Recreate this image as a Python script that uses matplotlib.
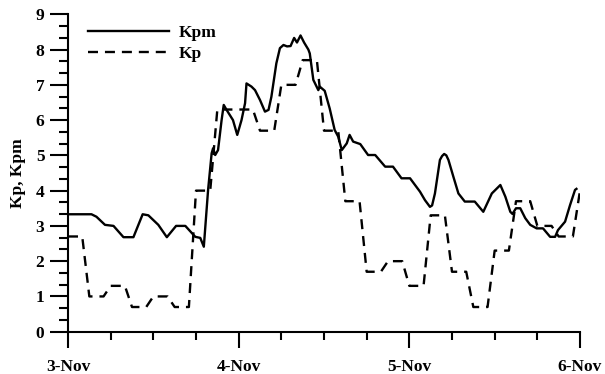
import matplotlib
matplotlib.use("Agg")
import matplotlib.pyplot as plt
from matplotlib.ticker import MultipleLocator, FixedLocator, FixedFormatter
import numpy as np

# ---- data ----
# Kp: 3-hour values (3-Nov 00UT .. 5-Nov 21UT) plus first value of 6-Nov
kp_3h = [2.7, 1.0, 1.3, 0.7, 1.0, 0.7, 4.0, 6.3,
         6.3, 5.7, 7.0, 7.7, 5.7, 3.7, 1.7, 2.0,
         1.3, 3.3, 1.7, 0.7, 2.3, 3.7, 3.0, 2.7,
         4.0]

# Kpm: (hours since 3-Nov 00UT, value)
kpm_hours = [0.0, 3.3, 4.0, 5.2, 6.4, 7.8, 9.2, 10.5, 11.3, 12.7, 13.9, 15.2, 16.5,
             17.9, 18.6, 19.1, 19.7, 20.2, 20.4, 20.7, 21.1, 21.6, 21.9, 22.3, 23.2,
             23.8, 24.4, 24.9, 25.1, 25.8, 26.3, 27.0, 27.7, 28.2, 28.6, 29.3, 29.8,
             30.3, 30.8, 31.3, 31.8, 32.2, 32.7, 33.2, 33.8, 34.0, 34.5, 35.2, 35.4,
             36.1, 36.8, 37.5, 38.0, 38.5, 39.2, 39.6, 40.1, 41.1, 42.2, 43.2, 44.6,
             45.7, 46.9, 48.1, 49.5, 50.2, 50.9, 51.2, 51.6, 52.3, 52.6, 52.9, 53.2,
             53.5, 54.2, 54.9, 55.8, 57.2, 58.4, 59.6, 60.8, 61.5, 62.2, 62.5, 63.0,
             63.6, 64.3, 65.0, 65.9, 66.8, 67.8, 68.5, 68.9, 69.9, 70.6, 71.3, 71.5]
kpm_values = [3.33, 3.33, 3.26, 3.03, 3.0, 2.68, 2.68, 3.33, 3.30, 3.03, 2.68, 3.0, 3.0,
              2.69, 2.66, 2.41, 4.02, 5.06, 5.2, 5.01, 5.15, 6.0, 6.43, 6.29, 6.0,
              5.58, 6.0, 6.48, 7.04, 6.95, 6.85, 6.57, 6.24, 6.29, 6.66, 7.61, 8.04,
              8.13, 8.09, 8.10, 8.33, 8.2, 8.4, 8.2, 8.0, 7.89, 7.14, 6.85, 6.95,
              6.83, 6.33, 5.72, 5.53, 5.15, 5.34, 5.58, 5.39, 5.32, 5.01, 5.01, 4.68,
              4.68, 4.35, 4.35, 3.97, 3.73, 3.54, 3.58, 3.92, 4.87, 4.98, 5.04, 5.0,
              4.87, 4.39, 3.92, 3.69, 3.69, 3.40, 3.92, 4.16, 3.83, 3.40, 3.34, 3.50,
              3.50, 3.22, 3.03, 2.93, 2.93, 2.69, 2.69, 2.88, 3.12, 3.59, 4.02, 4.05]

x_tick_hours = [0, 24, 48, 72]
x_tick_labels = ["3-Nov", "4-Nov", "5-Nov", "6-Nov"]
y_ticks = list(range(0, 10))

# Kp as hourly samples (each 3-hour value repeated for its three hours)
kp_hourly_t = np.arange(0, 3 * (len(kp_3h) - 1) + 1)
kp_hourly_v = [kp_3h[int(t) // 3] for t in kp_hourly_t]

# ---- figure ----
plt.rcParams["lines.scale_dashes"] = False
W, H = 605, 374
fig = plt.figure(figsize=(W / 100, H / 100), dpi=100)
left, right, top, bottom = 68, 580, 14.3, 331.7
ax = fig.add_axes([left / W, 1 - bottom / H, (right - left) / W, (bottom - top) / H])

lw = 1.7
ax.plot(kpm_hours, kpm_values, color="black", lw=lw, solid_joinstyle="round", label="Kpm")
ax.plot(kp_hourly_t, kp_hourly_v, color="black", lw=lw, dashes=(7.2, 5.0),
        dash_capstyle="butt", label="Kp")

ax.set_xlim(0, 72)
ax.set_ylim(0, 9)

for s in ["top", "right"]:
    ax.spines[s].set_visible(False)
for s in ["left", "bottom"]:
    ax.spines[s].set_linewidth(1.5)

FS = 12.5
font = dict(family="Liberation Serif", weight="bold", size=FS)

ax.xaxis.set_major_locator(FixedLocator(x_tick_hours))
ax.xaxis.set_major_formatter(FixedFormatter(x_tick_labels))
ax.xaxis.set_minor_locator(MultipleLocator(6))
ax.yaxis.set_major_locator(FixedLocator(y_ticks))
ax.yaxis.set_minor_locator(MultipleLocator(1 / 3))

ax.tick_params(axis="x", which="major", direction="out", length=11.5, width=1.5, pad=8)
ax.tick_params(axis="x", which="minor", direction="out", length=5.8, width=1.5)
ax.tick_params(axis="y", which="major", direction="out", length=13, width=1.5, pad=4)
ax.tick_params(axis="y", which="minor", direction="out", length=6.5, width=1.5)
for lab in ax.get_xticklabels() + ax.get_yticklabels():
    lab.set_fontproperties(font)

ax.set_ylabel("Kp, Kpm", fontdict=font)
ax.yaxis.set_label_coords(-0.083, 0.5)

leg = ax.legend(loc="upper left", bbox_to_anchor=(0.008, 1.015), frameon=False,
                handlelength=4.66, handletextpad=0.6, labelspacing=0.28,
                prop=dict(family="Liberation Serif", weight="bold", size=FS))

fig.savefig("out.png", dpi=100)
